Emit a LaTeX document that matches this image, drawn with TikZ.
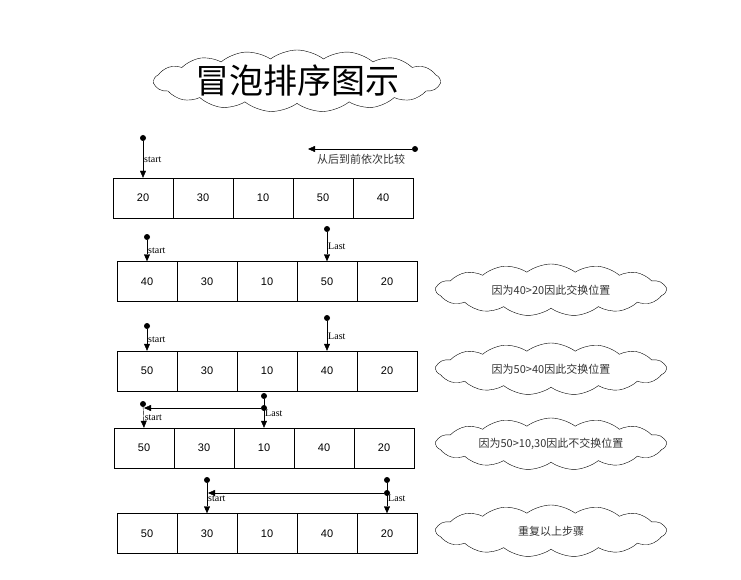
\documentclass[tikz,border=0pt]{standalone}
\usepackage{fontspec}
\setmainfont{Liberation Serif}
\newfontfamily\cjk{Noto Sans CJK SC}
\newfontfamily\arial{Liberation Sans}
\usetikzlibrary{arrows.meta}
\usetikzlibrary{shapes.symbols}
\tikzset{
cell/.style={draw, minimum width=60pt, minimum height=40pt, inner sep=0pt, font=\arial\fontsize{11}{13}\selectfont},
dot/.style={shape=circle, fill=black, inner sep=0pt, minimum size=6pt},
puff/.style={cloud, draw, cloud puffs=15, cloud puff arc=75, cloud ignores aspect, minimum width=230pt, minimum height=52pt, inner sep=0pt, text=black!80, font=\cjk\fontsize{11}{13}\selectfont},
ptr/.style={-{Triangle[length=7pt,width=6pt]}},
tag/.style={font=\fontsize{10}{12}\selectfont, inner sep=1pt}
}

\begin{document}
\begin{tikzpicture}[x=1pt,y=-1pt]
    \useasboundingbox (0,0) rectangle (741,580);

    % title
    \node[puff, cloud puffs=17, minimum width=285pt, minimum height=62pt, text=black, font=\cjk\fontsize{34}{36}\selectfont] (title) at (297,81) {冒泡排序图示};

    % rows of cells
    \foreach \v [count=\i] in {20,30,10,50,40} \node[cell] (a\i) at (83+60*\i,198) {\v};
    \foreach \v [count=\i] in {40,30,10,50,20} \node[cell] (b\i) at (87+60*\i,281.5) {\v};
    \foreach \v [count=\i] in {50,30,10,40,20} \node[cell] (c\i) at (87+60*\i,371) {\v};
    \foreach \v [count=\i] in {50,30,10,40,20} \node[cell] (d\i) at (84+60*\i,448) {\v};
    \foreach \v [count=\i] in {50,30,10,40,20} \node[cell] (e\i) at (87+60*\i,533.5) {\v};

    % row 1
    \node[dot] (s1) at (143,138) {};
    \draw[ptr] (s1) -- (a1.north) node[midway, right, tag] {start};
    \node[dot] (r1) at (415,149) {};
    \coordinate (r0) at (308,149);
    \draw[ptr] (r1) -- (r0);
    \node[font=\cjk\fontsize{11}{13}\selectfont, text=black!80] (cmp) at (361,159) {从后到前依次比较};

    % row 2
    \node[dot] (s2) at (147,237) {};
    \draw[ptr] (s2) -- (b1.north) node[midway, right, tag] {start};
    \node[dot] (l2) at (327,229) {};
    \draw[ptr] (l2) -- (b4.north) node[midway, right, tag] {Last};
    \node[puff] (n2) at (551,290) {因为40>20因此交换位置};

    % row 3
    \node[dot] (s3) at (147,326) {};
    \draw[ptr] (s3) -- (c1.north) node[midway, right, tag] {start};
    \node[dot] (l3) at (327,318) {};
    \draw[ptr] (l3) -- (c4.north) node[midway, right, tag] {Last};
    \node[puff] (n3) at (551,369) {因为50>40因此交换位置};

    % row 4
    \node[dot] (s4) at (143,404) {};
    \draw[ptr] (s4) -- (d1.north) node[midway, right, tag] {start};
    \node[dot] (l4) at (264,396) {};
    \draw[ptr] (l4) -- (d3.north) node[midway, right, tag] {Last};
    \node[dot] (m4) at (264,408) {};
    \coordinate (t4) at (144,408);
    \draw[ptr] (m4) -- (t4);
    \node[puff] (n4) at (551,444) {因为50>10,30因此不交换位置};

    % row 5
    \node[dot] (s5) at (207,480) {};
    \draw[ptr] (s5) -- (e2.north) node[midway, right, tag] {start};
    \node[dot] (l5) at (387,480) {};
    \draw[ptr] (l5) -- (e5.north) node[midway, right, tag] {Last};
    \node[dot] (m5) at (387,493) {};
    \coordinate (t5) at (208,493);
    \draw[ptr] (m5) -- (t5);
    \node[puff] (n5) at (551,531) {重复以上步骤};

\end{tikzpicture}
\end{document}
